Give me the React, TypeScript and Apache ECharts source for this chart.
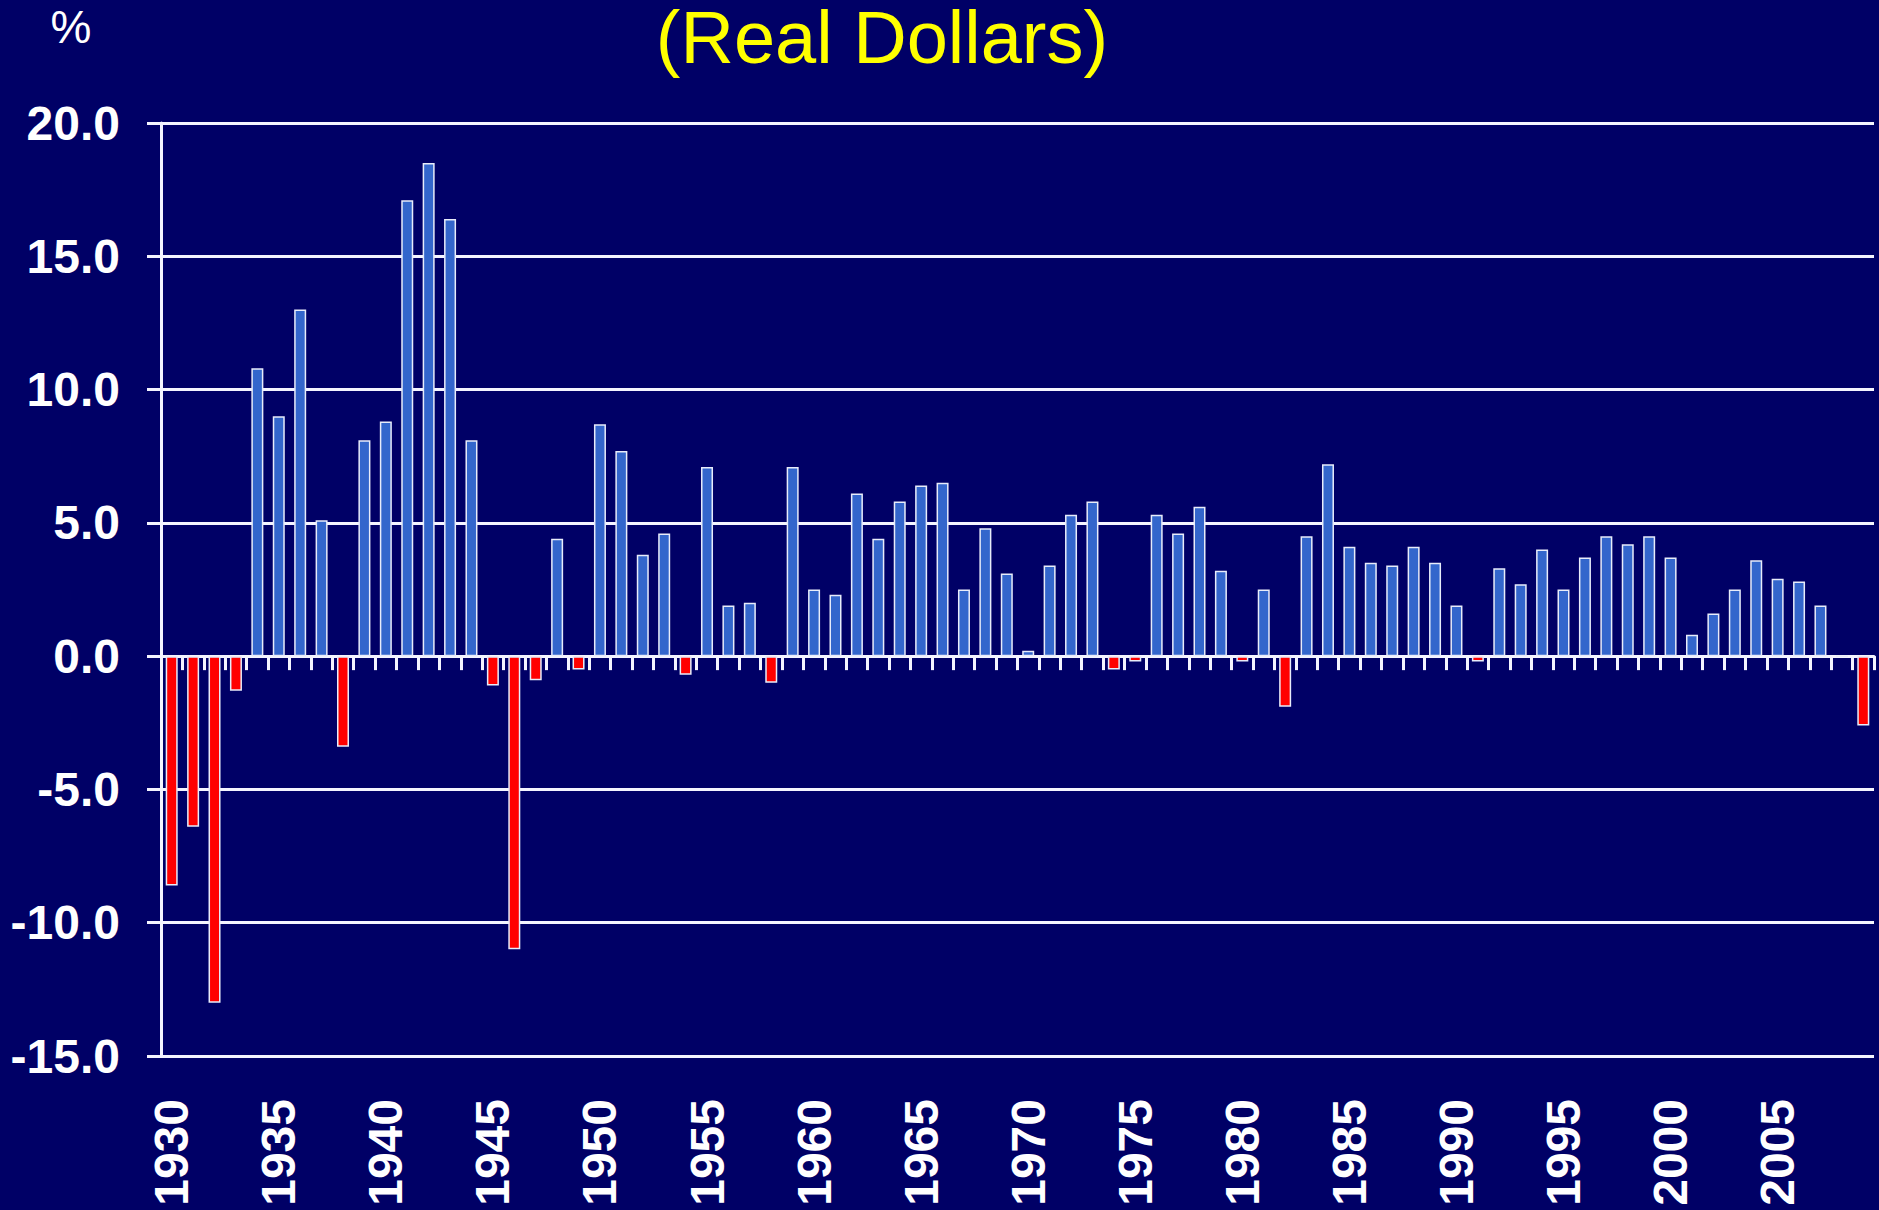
import React, { useEffect, useRef } from "react";
import * as echarts from "echarts";

const years = [
  "1930","1931","1932","1933","1934","1935","1936","1937","1938","1939",
  "1940","1941","1942","1943","1944","1945","1946","1947","1948","1949",
  "1950","1951","1952","1953","1954","1955","1956","1957","1958","1959",
  "1960","1961","1962","1963","1964","1965","1966","1967","1968","1969",
  "1970","1971","1972","1973","1974","1975","1976","1977","1978","1979",
  "1980","1981","1982","1983","1984","1985","1986","1987","1988","1989",
  "1990","1991","1992","1993","1994","1995","1996","1997","1998","1999",
  "2000","2001","2002","2003","2004","2005","2006","2007","2008","2009",
];

const growth = [
  -8.6, -6.4, -13.0, -1.3, 10.8, 9.0, 13.0, 5.1, -3.4, 8.1,
  8.8, 17.1, 18.5, 16.4, 8.1, -1.1, -11.0, -0.9, 4.4, -0.5,
  8.7, 7.7, 3.8, 4.6, -0.7, 7.1, 1.9, 2.0, -1.0, 7.1,
  2.5, 2.3, 6.1, 4.4, 5.8, 6.4, 6.5, 2.5, 4.8, 3.1,
  0.2, 3.4, 5.3, 5.8, -0.5, -0.2, 5.3, 4.6, 5.6, 3.2,
  -0.2, 2.5, -1.9, 4.5, 7.2, 4.1, 3.5, 3.4, 4.1, 3.5,
  1.9, -0.2, 3.3, 2.7, 4.0, 2.5, 3.7, 4.5, 4.2, 4.5,
  3.7, 0.8, 1.6, 2.5, 3.6, 2.9, 2.8, 1.9, 0, -2.6,
];

const titleText = "(Real Dollars)";
const unitText = "%";

const BG = "#000066";
const BLUE = "#3366CC";
const RED = "#FF0000";
const FONT = "'Liberation Sans', Arial, Helvetica, sans-serif";

export default function App() {
  const ref = useRef<HTMLDivElement>(null);

  useEffect(() => {
    if (!ref.current) return;
    const chart = echarts.init(ref.current, null, { renderer: "svg" });
    chart.setOption({
      animation: false,
      backgroundColor: BG,
      textStyle: { fontFamily: FONT },
      grid: { left: 161, right: 5, top: 123, bottom: 154, containLabel: false },
      graphic: [
        {
          type: "text",
          x: 882,
          y: 37,
          style: {
            text: titleText,
            fill: "#FFFF00",
            font: `74px ${FONT}`,
            textAlign: "center",
            textVerticalAlign: "middle",
          },
        },
        {
          type: "text",
          x: 71,
          y: 27,
          style: {
            text: unitText,
            fill: "#FFFFFF",
            font: `46px ${FONT}`,
            textAlign: "center",
            textVerticalAlign: "middle",
          },
        },
      ],
      xAxis: [
        {
          type: "category",
          data: years,
          position: "bottom",
          boundaryGap: true,
          axisLine: { show: false, onZero: false },
          axisTick: { show: false },
          splitLine: { show: false },
          axisLabel: {
            interval: 4,
            rotate: 90,
            margin: 43,
            color: "#FFFFFF",
            fontSize: 48,
            fontWeight: "bold",
            fontFamily: FONT,
          },
        },
        {
          type: "category",
          data: years,
          position: "bottom",
          boundaryGap: true,
          axisLine: { show: true, onZero: true, lineStyle: { color: "#F4F4FF", width: 3 } },
          axisTick: {
            show: true,
            interval: 0,
            length: 14,
            lineStyle: { color: "#F4F4FF", width: 3 },
          },
          axisLabel: { show: false },
          splitLine: { show: false },
        },
      ],
      yAxis: {
        type: "value",
        min: -15,
        max: 20,
        interval: 5,
        axisLine: { show: true, onZero: false, lineStyle: { color: "#F4F4FF", width: 3 } },
        axisTick: { show: true, length: 14, lineStyle: { color: "#F4F4FF", width: 3 } },
        splitLine: { show: true, lineStyle: { color: "#F4F4FF", width: 3 } },
        axisLabel: {
          margin: 41,
          color: "#FFFFFF",
          fontSize: 48,
          fontWeight: "bold",
          fontFamily: FONT,
          formatter: (v: number) => v.toFixed(1),
        },
      },
      series: [
        {
          type: "bar",
          xAxisIndex: 0,
          data: growth,
          barWidth: 12,
          z: 5,
          itemStyle: {
            color: (p: any) => (p.value < 0 ? RED : BLUE),
            borderColor: "#E8ECFA",
            borderWidth: 1.5,
          },
        },
      ],
    });
    return () => chart.dispose();
  }, []);

  return (
    <div
      ref={ref}
      style={{ position: "fixed", left: 0, top: 0, width: 1879, height: 1210 }}
    />
  );
}
